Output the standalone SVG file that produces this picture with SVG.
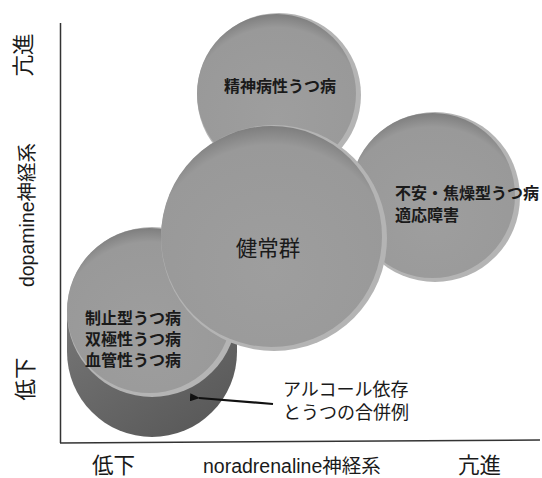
<svg xmlns="http://www.w3.org/2000/svg" width="542" height="478" viewBox="0 0 542 478">
<style>
.rim{fill:#b4b4b4}
.face{fill:url(#faceG)}
.side{fill:url(#sideG)}
.lbl{font-family:"Noto Sans CJK JP","Liberation Sans",sans-serif;font-weight:700;font-size:16px;fill:#1a1a1a}
.big{font-family:"Noto Sans CJK JP","Liberation Sans",sans-serif;font-size:21.5px;fill:#1a1a1a}
.ax{font-family:"Liberation Sans","Noto Sans CJK JP",sans-serif;font-size:19.5px;fill:#1a1a1a}
.note{font-family:"Noto Sans CJK JP","Liberation Sans",sans-serif;font-size:18px;fill:#1a1a1a}
.axis{stroke:#333;stroke-width:1.5;fill:none}
</style>
<defs>
<radialGradient id="faceG" cx="0.5" cy="0.65" r="0.65">
<stop offset="0" stop-color="#9e9e9e"/>
<stop offset="0.87" stop-color="#999999"/>
<stop offset="1" stop-color="#7e7e7e"/>
</radialGradient>
<linearGradient id="sideG" x1="0" y1="0" x2="1" y2="1">
<stop offset="0" stop-color="#767676"/>
<stop offset="1" stop-color="#555555"/>
</linearGradient>
<marker id="ah" markerWidth="10" markerHeight="8" refX="1" refY="4" orient="auto" markerUnits="userSpaceOnUse">
<path d="M0,4 L10,0 L10,8 Z" fill="#111"/>
</marker>
</defs>
<rect width="542" height="478" fill="#fff"/>
<g id="axes">
<line class="axis" x1="60.5" y1="23" x2="60.5" y2="443"/>
<line class="axis" x1="60" y1="443" x2="540" y2="440"/>
</g>
<g id="psychotic">
<circle class="rim" cx="279" cy="95" r="82"/>
<circle class="face" cx="276.5" cy="93.5" r="79.5"/>
<text class="lbl" x="280" y="92" text-anchor="middle">精神病性うつ病</text>
</g>
<g id="anxiety">
<circle class="rim" cx="435" cy="197" r="85"/>
<circle class="face" cx="432.5" cy="195.5" r="82.5"/>
<text class="lbl" x="395" y="199">不安・焦燥型うつ病</text>
<text class="lbl" x="395" y="221">適応障害</text>
</g>
<g id="inhibited">
<path class="side" d="M67,312 L67,352 A85,85 0 0 0 237,352 L237,312 Z"/>
<circle class="rim" cx="152" cy="312" r="85"/>
<circle class="face" cx="149.5" cy="310.5" r="82.5"/>
</g>
<g id="healthy">
<circle class="rim" cx="274" cy="238" r="113"/>
<circle class="face" cx="271.5" cy="236.5" r="110.5"/>
<text class="big" x="268" y="256" text-anchor="middle">健常群</text>
</g>
<g id="inhibited-labels">
<text class="lbl" x="85" y="324">制止型うつ病</text>
<text class="lbl" x="85" y="345">双極性うつ病</text>
<text class="lbl" x="85" y="366">血管性うつ病</text>
</g>
<g id="connectors">
<line x1="273" y1="404" x2="199" y2="398" stroke="#111" stroke-width="2.2" marker-end="url(#ah)"/>
</g>
<g id="alcohol">
<text class="note" x="283" y="396">アルコール依存</text>
<text class="note" x="283" y="419">とうつの合併例</text>
</g>
<g id="axis-labels">
<text class="big" transform="translate(31,55) rotate(-90)" text-anchor="middle">亢進</text>
<text class="big" transform="translate(33,379) rotate(-90)" text-anchor="middle">低下</text>
<text class="ax" transform="translate(34,215) rotate(-90)" text-anchor="middle" font-size="19">dopamine神経系</text>
<text class="big" x="92" y="473">低下</text>
<text class="ax" x="203" y="473">noradrenaline神経系</text>
<text class="big" x="458" y="473">亢進</text>
</g>
</svg>
